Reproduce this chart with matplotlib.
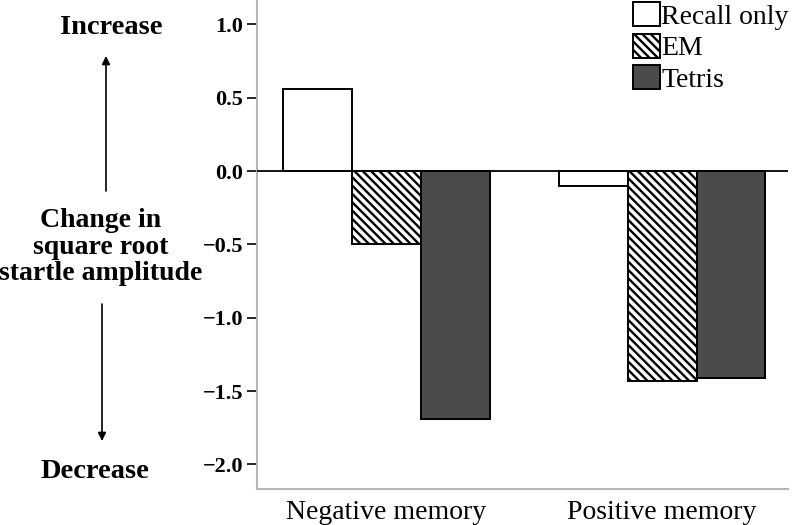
import matplotlib.pyplot as plt
import numpy as np

plt.rcParams["font.family"] = ["Liberation Serif", "DejaVu Serif"]
plt.rcParams["hatch.linewidth"] = 1.7

categories = ["Negative memory", "Positive memory"]
conditions = ["Recall only", "EM", "Tetris"]
recall_only = [0.56, -0.10]
em = [-0.50, -1.43]
tetris = [-1.69, -1.41]
y_ticks = [1.0, 0.5, 0.0, -0.5, -1.0, -1.5, -2.0]

bar_width = 0.25


def make_figure():
    fig = plt.figure(figsize=(7.98, 5.25), dpi=100)
    ax = fig.add_axes([257 / 798, 1 - 489 / 525, (788 - 257) / 798, 489 / 525])
    return fig, ax


def add_bars(ax):
    x = np.arange(len(categories))
    styles = [
        dict(facecolor="white", hatch=None),
        dict(facecolor="white", hatch="\\\\\\\\"),
        dict(facecolor="#4b4b4b", hatch=None),
    ]
    for i, (vals, label, st) in enumerate(zip([recall_only, em, tetris], conditions, styles)):
        ax.bar(x + (i - 1) * bar_width, vals, bar_width, label=label,
               edgecolor="black", linewidth=1.4, zorder=2, **st)
    ax.axhline(0, color="black", linewidth=1.3, zorder=3)


def setup_axes(ax):
    ax.set_xlim(-0.47, 1.457)
    ax.set_ylim(-2.168, 1.167)
    ax.set_yticks(y_ticks)
    ax.set_yticklabels([f"{v:.1f}".replace("-", "\u2212") for v in y_ticks],
                       fontsize=16, fontweight="bold")
    ax.set_xticks(range(len(categories)))
    ax.set_xticklabels(categories, fontsize=20)
    ax.tick_params(axis="x", length=0, pad=8)
    ax.tick_params(axis="y", length=7, width=1.2, color="black", pad=3)
    for side in ["top", "right"]:
        ax.spines[side].set_visible(False)
    for side in ["left", "bottom"]:
        ax.spines[side].set_color("#b5b5b5")
        ax.spines[side].set_linewidth(1.5)


def add_legend(ax):
    ax.legend(loc="upper left", bbox_to_anchor=(633 / 798, 1 - 2 / 525),
              bbox_transform=ax.figure.transFigure, frameon=False,
              fontsize=20, handlelength=0.97, handleheight=0.95,
              handletextpad=0.05, labelspacing=0.15, borderpad=0,
              borderaxespad=0)


def add_side_labels(fig):
    def fx(px):
        return px / 798

    def fy(py):
        return 1 - py / 525

    fig.text(fx(111), fy(27), "Increase", ha="center", va="center",
             fontsize=20.5, fontweight="bold")
    fig.text(fx(95), fy(471), "Decrease", ha="center", va="center",
             fontsize=20.5, fontweight="bold")
    fig.text(fx(101), fy(247), "Change in\nsquare root\nstartle amplitude",
             ha="center", va="center", fontsize=20, fontweight="bold",
             linespacing=1.08)
    arrow = dict(arrowstyle="-|>", color="black", lw=1.2,
                 mutation_scale=12, shrinkA=0, shrinkB=0)
    fig.add_artist(plt.Annotation("", xy=(fx(106), fy(56)), xytext=(fx(106), fy(191)),
                                  xycoords="figure fraction", arrowprops=arrow))
    fig.add_artist(plt.Annotation("", xy=(fx(102), fy(441)), xytext=(fx(102), fy(304)),
                                  xycoords="figure fraction", arrowprops=arrow))


def entry_point():
    fig, ax = make_figure()
    add_bars(ax)
    setup_axes(ax)
    add_legend(ax)
    add_side_labels(fig)
    fig.savefig("out.png", dpi=100)


if __name__ == "__main__":
    entry_point()
